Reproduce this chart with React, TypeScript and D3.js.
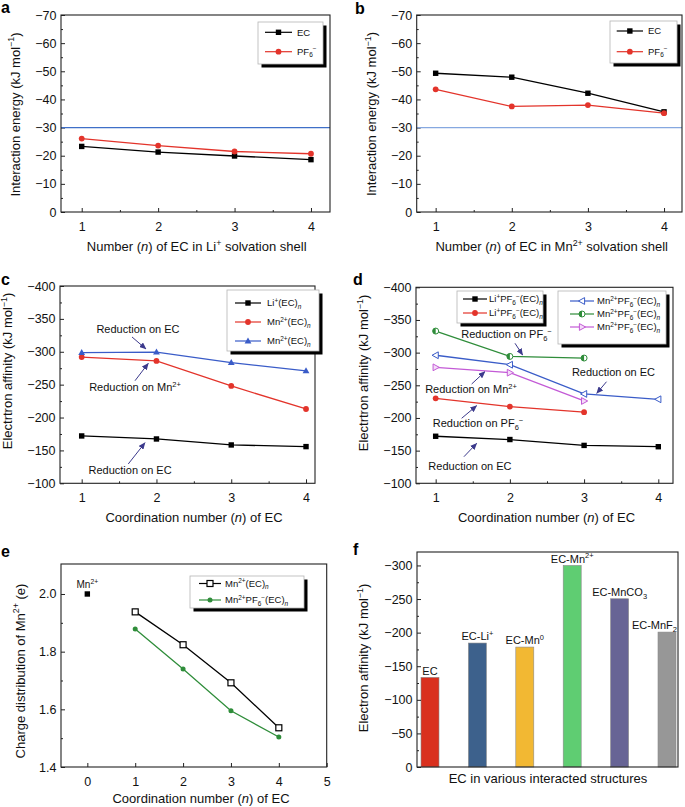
import React, { useEffect, useRef } from 'react';
import * as d3 from 'd3';

const FONT = '"Liberation Sans", Arial, Helvetica, sans-serif';
const RED = '#e3342b';
const BLUE = '#3a5cc8';
const GREEN = '#2f8d3a';
const MAGENTA = '#c35ad6';
const ARROW = '#3c3a8c';

// ---- panel a / b : interaction energy ----
const ecCount = [1, 2, 3, 4];
const liEC = [-23.3, -21.3, -19.9, -18.6];
const liPF6 = [-26.1, -23.6, -21.5, -20.7];
const mnEC = [-49.3, -47.9, -42.2, -35.6];
const mnPF6 = [-43.6, -37.5, -38.0, -35.1];
const energyThreshold = -30;
const energyTicks = [0, -10, -20, -30, -40, -50, -60, -70];
const energyMinor = [-5, -15, -25, -35, -45, -55, -65];

// ---- panel c / d : electron affinity ----
const ecCount3 = [1, 2, 3];
const cLiEC = [-172, -167.4, -158.3, -155.8];
const cMnEC_mn = [-292, -286, -248, -213];
const cMnEC_ec = [-298.6, -299.6, -283.4, -271];
const dLiPF6_ec = [-172, -167, -158, -156];
const dLiPF6_pf6 = [-230, -217.5, -208.8];
const dMnPF6_ec = [-296, -281.5, -236.8, -228.6];
const dMnPF6_pf6 = [-333, -294.2, -291.7];
const dMnPF6_mn = [-277.5, -269.3, -226];
const affinityTicks = [-100, -150, -200, -250, -300, -350, -400];
const affinityMinor = [-125, -175, -225, -275, -325, -375];
const halfTicks = [1.5, 2.5, 3.5];

const annotationsC = [
  { label: 'Reduction on EC', at: [1.753, -328.5], from: [1.673, -322.5], to: [1.86, -304.2] },
  { label: 'Reduction on Mn<sup>2+</sup>', at: [1.713, -240.4], from: [1.713, -256], to: [1.891, -282.5] },
  { label: 'Reduction on EC', at: [1.647, -113.4], from: [1.623, -129.4], to: [1.847, -161.7] },
];
const annotationsD = [
  { label: 'Reduction on PF<sub>6</sub><sup>−</sup>', at: [1.954, -322.4], from: [2.069, -314.3], to: [2.172, -296.4] },
  { label: 'Reduction on EC', at: [3.396, -264.2], from: [3.302, -255.5], to: [3.17, -237.7] },
  { label: 'Reduction on Mn<sup>2+</sup>', at: [1.476, -238.2], from: [1.485, -252], to: [1.664, -270.8] },
  { label: 'Reduction on PF<sub>6</sub><sup>−</sup>', at: [1.57, -186.2], from: [1.35, -199.5], to: [1.553, -218.8] },
  { label: 'Reduction on EC', at: [1.462, -120.3], from: [1.381, -140.7], to: [1.553, -161.2] },
];

// ---- panel e : charge on Mn ----
const eCount = [1, 2, 3, 4];
const chargeMnEC = [1.938, 1.824, 1.692, 1.536];
const chargeMnPF6EC = [1.879, 1.74, 1.595, 1.504];
const bareMnN = [0];
const bareMnCharge = [2.0];
const chargeTicks = [1.4, 1.6, 1.8, 2.0];
const chargeMinor = [1.5, 1.7, 1.9];
const eXTicks = [0, 1, 2, 3, 4, 5];

// ---- panel f : bars ----
const structures = ['EC', 'EC-Li+', 'EC-Mn0', 'EC-Mn2+', 'EC-MnCO3', 'EC-MnF2'];
const structureLabels = ['EC', 'EC-Li<sup>+</sup>', 'EC-Mn<sup>0</sup>', 'EC-Mn<sup>2+</sup>', 'EC-MnCO<sub>3</sub>', 'EC-MnF<sub>2</sub>'];
const structureAffinity = [-133.4, -184.5, -178.5, -300, -250.4, -200.8];
const structureColors = ['#d9301e', '#3d618c', '#f2b833', '#5fcd72', '#676495', '#979797'];
const barTicks = [0, -50, -100, -150, -200, -250, -300];
const barMinor = [-25, -75, -125, -175, -225, -275];

// small markup: <sup>, <sub>, <i>
function rich(text: any, markup: string, size: number) {
  const parts = markup.split(/(<\/?(?:sup|sub|i)>)/).filter(s => s !== '');
  let sup = 0, sub = 0, ital = 0, shift = 0;
  for (const p of parts) {
    if (p === '<sup>') sup++;
    else if (p === '</sup>') sup--;
    else if (p === '<sub>') sub++;
    else if (p === '</sub>') sub--;
    else if (p === '<i>') ital++;
    else if (p === '</i>') ital--;
    else {
      const target = sup ? -0.4 * size : sub ? 0.25 * size : 0;
      text.append('tspan')
        .attr('dy', target - shift)
        .attr('font-size', sup || sub ? size * 0.68 : size)
        .attr('font-style', ital ? 'italic' : null)
        .text(p);
      shift = target;
    }
  }
  return text;
}

function marker(g: any, shape: string, cx: number, cy: number, color: string) {
  if (shape === 'square') {
    g.append('rect').attr('x', cx - 2.7).attr('y', cy - 2.7).attr('width', 5.4).attr('height', 5.4).attr('fill', color);
  } else if (shape === 'openSquare') {
    g.append('rect').attr('x', cx - 3).attr('y', cy - 3).attr('width', 6).attr('height', 6)
      .attr('fill', '#fff').attr('stroke', color).attr('stroke-width', 1.2);
  } else if (shape === 'circle') {
    g.append('circle').attr('cx', cx).attr('cy', cy).attr('r', 2.9).attr('fill', color);
  } else if (shape === 'smallCircle') {
    g.append('circle').attr('cx', cx).attr('cy', cy).attr('r', 2.5).attr('fill', color);
  } else if (shape === 'triUp') {
    g.append('path').attr('d', `M${cx},${cy - 3.6}L${cx + 3.4},${cy + 2.4}L${cx - 3.4},${cy + 2.4}Z`).attr('fill', color);
  } else if (shape === 'triLeft') {
    g.append('path').attr('d', `M${cx - 3.6},${cy}L${cx + 2.6},${cy - 3.4}L${cx + 2.6},${cy + 3.4}Z`)
      .attr('fill', '#fff').attr('stroke', color).attr('stroke-width', 1);
  } else if (shape === 'triRight') {
    g.append('path').attr('d', `M${cx + 3.6},${cy}L${cx - 2.6},${cy - 3.4}L${cx - 2.6},${cy + 3.4}Z`)
      .attr('fill', '#f4dcf8').attr('stroke', color).attr('stroke-width', 1);
  } else if (shape === 'halfCircle') {
    g.append('circle').attr('cx', cx).attr('cy', cy).attr('r', 3).attr('fill', '#fff').attr('stroke', color).attr('stroke-width', 1);
    g.append('path').attr('d', `M${cx},${cy - 3}A3,3 0 0 0 ${cx},${cy + 3}Z`).attr('fill', color);
  }
}

function legend(svg: any, box: any, entries: any[]) {
  const g = svg.append('g');
  g.append('rect').attr('x', box.x + 3.5).attr('y', box.y + 3.5).attr('width', box.w).attr('height', box.h).attr('fill', '#000');
  g.append('rect').attr('x', box.x).attr('y', box.y).attr('width', box.w).attr('height', box.h)
    .attr('fill', '#fff').attr('stroke', '#b5b5b5').attr('stroke-width', 0.8);
  entries.forEach((e, i) => {
    const y = box.y + box.rows[i];
    g.append('line').attr('x1', box.x + box.line[0]).attr('x2', box.x + box.line[1]).attr('y1', y).attr('y2', y)
      .attr('stroke', e.color).attr('stroke-width', 1.2);
    marker(g, e.shape, box.x + (box.line[0] + box.line[1]) / 2, y, e.color);
    rich(g.append('text').attr('x', box.x + box.text).attr('y', y + 3.4).attr('fill', '#111'), e.label, 9.5);
  });
}

function xyPanel(svg: any, cfg: any) {
  const { frame } = cfg;
  const x = d3.scaleLinear().domain(cfg.xDomain).range([frame.left, frame.right]);
  const y = d3.scaleLinear().domain(cfg.yDomain).range([frame.bottom, frame.top]);
  const g = svg.append('g');

  // axes, ticks pointing inward
  const yAxis = g.append('g').attr('transform', `translate(${frame.left},0)`)
    .call(d3.axisLeft(y).tickValues(cfg.yTicks).tickSize(-4).tickPadding(4.5).tickFormat(d3.format(cfg.yFormat || 'd')));
  const yMin = g.append('g').attr('transform', `translate(${frame.left},0)`)
    .call(d3.axisLeft(y).tickValues(cfg.yMinor || []).tickSize(-2).tickFormat(() => ''));
  const xAxis = g.append('g').attr('transform', `translate(0,${frame.bottom})`)
    .call(d3.axisBottom(x).tickValues(cfg.xTicks).tickSize(-4).tickPadding(10).tickFormat(d3.format('d')));
  const xMin = g.append('g').attr('transform', `translate(0,${frame.bottom})`)
    .call(d3.axisBottom(x).tickValues(cfg.xMinor || []).tickSize(-2).tickFormat(() => ''));
  [yAxis, yMin, xAxis, xMin].forEach(a => {
    a.select('.domain').remove();
    a.selectAll('line').attr('stroke', '#222');
    a.selectAll('text').attr('font-size', 12.5).attr('font-family', FONT).attr('fill', '#111');
  });

  (cfg.hlines || []).forEach((h: any) => {
    g.append('line').attr('x1', frame.left).attr('x2', frame.right).attr('y1', y(h.value)).attr('y2', y(h.value))
      .attr('stroke', h.color).attr('stroke-width', 1.2);
  });

  g.append('rect').attr('x', frame.left).attr('y', frame.top)
    .attr('width', frame.right - frame.left).attr('height', frame.bottom - frame.top)
    .attr('fill', 'none').attr('stroke', '#222').attr('stroke-width', 1.1);

  const line = d3.line<[number, number]>().x(d => x(d[0])).y(d => y(d[1]));
  cfg.series.forEach((s: any) => {
    const pts: [number, number][] = s.xs.map((v: number, i: number) => [v, s.ys[i]]);
    if (pts.length > 1) {
      g.append('path').attr('d', line(pts)).attr('fill', 'none').attr('stroke', s.color).attr('stroke-width', 1.3);
    }
    pts.forEach(p => marker(g, s.shape, x(p[0]), y(p[1]), s.color));
  });

  (cfg.annotations || []).forEach((a: any) => {
    g.append('line').attr('x1', x(a.from[0])).attr('y1', y(a.from[1])).attr('x2', x(a.to[0])).attr('y2', y(a.to[1]))
      .attr('stroke', ARROW).attr('stroke-width', 1).attr('marker-end', 'url(#arrowhead)');
    rich(g.append('text').attr('x', x(a.at[0])).attr('y', y(a.at[1])).attr('text-anchor', 'middle').attr('fill', '#111'), a.label, 11);
  });

  (cfg.labels || []).forEach((l: any) => {
    rich(g.append('text').attr('x', x(l.at[0])).attr('y', y(l.at[1])).attr('text-anchor', 'middle').attr('fill', '#111'), l.label, 10);
  });

  (cfg.legends || []).forEach((l: any) => legend(svg, l.box, l.entries));

  titles(svg, cfg);
}

function titles(svg: any, cfg: any) {
  rich(svg.append('text').attr('x', cfg.xTitle.x).attr('y', cfg.xTitle.y).attr('text-anchor', 'middle').attr('fill', '#111'), cfg.xTitle.label, 13);
  rich(svg.append('text')
    .attr('transform', `translate(${cfg.yTitle.x + 4.5},${cfg.yTitle.y}) rotate(-90)`)
    .attr('text-anchor', 'middle').attr('fill', '#111'), cfg.yTitle.label, 13);
  svg.append('text').attr('x', cfg.letter.x).attr('y', cfg.letter.y)
    .attr('font-weight', 'bold').attr('font-size', 16).attr('fill', '#000').text(cfg.letter.text);
}

function barPanel(svg: any) {
  const frame = { left: 417, top: 552, right: 678, bottom: 767 };
  const x = d3.scalePoint<string>().domain(structures).range([430, 667]);
  const y = d3.scaleLinear().domain([0, -320]).range([frame.bottom, frame.top]);
  const g = svg.append('g');
  const barW = 18;

  g.selectAll('rect.bar').data(structures).join('rect')
    .attr('class', 'bar')
    .attr('x', (d: string) => (x(d) as number) - barW / 2)
    .attr('width', barW)
    .attr('y', (_: string, i: number) => y(structureAffinity[i]))
    .attr('height', (_: string, i: number) => y(0) - y(structureAffinity[i]))
    .attr('fill', (_: string, i: number) => structureColors[i])
    .attr('stroke', '#8a8a8a').attr('stroke-width', 0.6);

  structures.forEach((d, i) => {
    const t = rich(g.append('text').attr('x', x(d) as number).attr('y', y(structureAffinity[i]) - 2.8)
      .attr('text-anchor', 'middle').attr('fill', '#111'), structureLabels[i], 11);
    // keep a label inside the frame, as the original does for the last bar
    const w = (t.node() as SVGTextElement).getComputedTextLength();
    const cx = x(d) as number;
    if (cx + w / 2 > frame.right - 1) t.attr('x', frame.right - 1 - w / 2);
  });

  const yAxis = g.append('g').attr('transform', `translate(${frame.left},0)`)
    .call(d3.axisLeft(y).tickValues(barTicks).tickSize(-4).tickPadding(4.5).tickFormat(d3.format('d')));
  const yMin = g.append('g').attr('transform', `translate(${frame.left},0)`)
    .call(d3.axisLeft(y).tickValues(barMinor).tickSize(-2).tickFormat(() => ''));
  [yAxis, yMin].forEach(a => {
    a.select('.domain').remove();
    a.selectAll('line').attr('stroke', '#222');
    a.selectAll('text').attr('font-size', 12.5).attr('font-family', FONT).attr('fill', '#111');
  });

  g.append('rect').attr('x', frame.left).attr('y', frame.top)
    .attr('width', frame.right - frame.left).attr('height', frame.bottom - frame.top)
    .attr('fill', 'none').attr('stroke', '#222').attr('stroke-width', 1.1);

  titles(svg, {
    xTitle: { x: 548, y: 782.5, label: 'EC in various interacted structures' },
    yTitle: { x: 363.3, y: 658, label: 'Electron affinity (kJ mol<sup>−1</sup>)' },
    letter: { x: 353, y: 555, text: 'f' },
  });
}

export default function App() {
  const ref = useRef<SVGSVGElement | null>(null);

  useEffect(() => {
    if (!ref.current) return;
    const svg = d3.select(ref.current);
    svg.selectAll('*').remove();
    svg.attr('font-family', FONT);

    svg.append('defs').append('marker')
      .attr('id', 'arrowhead').attr('markerUnits', 'userSpaceOnUse')
      .attr('markerWidth', 7).attr('markerHeight', 6).attr('refX', 6.5).attr('refY', 3).attr('orient', 'auto')
      .append('path').attr('d', 'M0,0L7,3L0,6Z').attr('fill', ARROW);

    const ecLi = [
      { label: 'EC', color: '#000', shape: 'square' },
      { label: 'PF<sub>6</sub><sup>−</sup>', color: RED, shape: 'circle' },
    ];

    // a
    xyPanel(svg, {
      frame: { left: 61, top: 15, right: 330, bottom: 212 },
      xDomain: [0.729, 4.249], yDomain: [0, -70],
      xTicks: ecCount, xMinor: halfTicks, yTicks: energyTicks, yMinor: energyMinor,
      hlines: [{ value: energyThreshold, color: '#3f6fc8' }],
      series: [
        { xs: ecCount, ys: liEC, color: '#000', shape: 'square' },
        { xs: ecCount, ys: liPF6, color: RED, shape: 'circle' },
      ],
      legends: [{ box: { x: 258, y: 22, w: 65, h: 42, line: [7, 34], text: 39, rows: [10.3, 29.7] }, entries: ecLi }],
      xTitle: { x: 196.7, y: 251, label: 'Number (<i>n</i>) of EC in Li<sup>+</sup> solvation shell' },
      yTitle: { x: 15, y: 114.5, label: 'Interaction energy (kJ mol<sup>−1</sup>)' },
      letter: { x: 1, y: 13, text: 'a' },
    });

    // b
    xyPanel(svg, {
      frame: { left: 416.7, top: 15, right: 682, bottom: 212 },
      xDomain: [0.751, 4.236], yDomain: [0, -70],
      xTicks: ecCount, xMinor: halfTicks, yTicks: energyTicks, yMinor: energyMinor,
      hlines: [{ value: energyThreshold, color: '#86a8e0' }],
      series: [
        { xs: ecCount, ys: mnEC, color: '#000', shape: 'square' },
        { xs: ecCount, ys: mnPF6, color: RED, shape: 'circle' },
      ],
      legends: [{ box: { x: 610, y: 21, w: 67, h: 42, line: [6.7, 33], text: 38, rows: [10, 30.7] }, entries: ecLi }],
      xTitle: { x: 551.7, y: 251, label: 'Number (<i>n</i>) of EC in Mn<sup>2+</sup> solvation shell' },
      yTitle: { x: 371.7, y: 114, label: 'Interaction energy (kJ mol<sup>−1</sup>)' },
      letter: { x: 355, y: 14, text: 'b' },
    });

    // c
    xyPanel(svg, {
      frame: { left: 60, top: 286, right: 315, bottom: 483.3 },
      xDomain: [0.71, 4.12], yDomain: [-100, -400],
      xTicks: ecCount, xMinor: halfTicks, yTicks: affinityTicks, yMinor: affinityMinor,
      series: [
        { xs: ecCount, ys: cLiEC, color: '#000', shape: 'square' },
        { xs: ecCount, ys: cMnEC_mn, color: RED, shape: 'circle' },
        { xs: ecCount, ys: cMnEC_ec, color: BLUE, shape: 'triUp' },
      ],
      annotations: annotationsC,
      legends: [{
        box: { x: 227, y: 290, w: 92, h: 61, line: [8, 34], text: 40, rows: [13, 32, 51] },
        entries: [
          { label: 'Li<sup>+</sup>(EC)<sub><i>n</i></sub>', color: '#000', shape: 'square' },
          { label: 'Mn<sup>2+</sup>(EC)<sub><i>n</i></sub>', color: RED, shape: 'circle' },
          { label: 'Mn<sup>2+</sup>(EC)<sub><i>n</i></sub>', color: BLUE, shape: 'triUp' },
        ],
      }],
      xTitle: { x: 194, y: 521.5, label: 'Coordination number (<i>n</i>) of EC' },
      yTitle: { x: 7.5, y: 371, label: 'Electrtron affinity (kJ mol<sup>−1</sup>)' },
      letter: { x: 1, y: 285, text: 'c' },
    });

    // d
    xyPanel(svg, {
      frame: { left: 416, top: 287.3, right: 673, bottom: 483.3 },
      xDomain: [0.735, 4.198], yDomain: [-100, -400],
      xTicks: ecCount, xMinor: halfTicks, yTicks: affinityTicks, yMinor: affinityMinor,
      series: [
        { xs: ecCount, ys: dLiPF6_ec, color: '#000', shape: 'square' },
        { xs: ecCount3, ys: dLiPF6_pf6, color: RED, shape: 'circle' },
        { xs: ecCount, ys: dMnPF6_ec, color: BLUE, shape: 'triLeft' },
        { xs: ecCount3, ys: dMnPF6_pf6, color: GREEN, shape: 'halfCircle' },
        { xs: ecCount3, ys: dMnPF6_mn, color: MAGENTA, shape: 'triRight' },
      ],
      annotations: annotationsD,
      legends: [
        {
          box: { x: 457, y: 291, w: 86, h: 32, line: [6, 30], text: 32, rows: [8, 22] },
          entries: [
            { label: 'Li<sup>+</sup>PF<sub>6</sub><sup>−</sup>(EC)<sub><i>n</i></sub>', color: '#000', shape: 'square' },
            { label: 'Li<sup>+</sup>PF<sub>6</sub><sup>−</sup>(EC)<sub><i>n</i></sub>', color: RED, shape: 'circle' },
          ],
        },
        {
          box: { x: 558, y: 291, w: 108, h: 53, line: [12, 36], text: 39, rows: [10, 23, 36] },
          entries: [
            { label: 'Mn<sup>2+</sup>PF<sub>6</sub><sup>−</sup>(EC)<sub><i>n</i></sub>', color: BLUE, shape: 'triLeft' },
            { label: 'Mn<sup>2+</sup>PF<sub>6</sub><sup>−</sup>(EC)<sub><i>n</i></sub>', color: GREEN, shape: 'halfCircle' },
            { label: 'Mn<sup>2+</sup>PF<sub>6</sub><sup>−</sup>(EC)<sub><i>n</i></sub>', color: MAGENTA, shape: 'triRight' },
          ],
        },
      ],
      xTitle: { x: 546.5, y: 521.5, label: 'Coordination number (<i>n</i>) of EC' },
      yTitle: { x: 363.3, y: 373, label: 'Electrtron affinity (kJ mol<sup>−1</sup>)' },
      letter: { x: 353, y: 285, text: 'd' },
    });

    // e
    xyPanel(svg, {
      frame: { left: 61, top: 564, right: 326.7, bottom: 767 },
      xDomain: [-0.55, 5], yDomain: [1.4, 2.104],
      xTicks: eXTicks, yTicks: chargeTicks, yMinor: chargeMinor, yFormat: '.1f',
      series: [
        { xs: bareMnN, ys: bareMnCharge, color: '#000', shape: 'square' },
        { xs: eCount, ys: chargeMnEC, color: '#000', shape: 'openSquare' },
        { xs: eCount, ys: chargeMnPF6EC, color: GREEN, shape: 'smallCircle' },
      ],
      labels: [{ label: 'Mn<sup>2+</sup>', at: [0, 2.022] }],
      legends: [{
        box: { x: 190, y: 576, w: 114, h: 32, line: [9, 31], text: 35, rows: [7.5, 24] },
        entries: [
          { label: 'Mn<sup>2+</sup>(EC)<sub><i>n</i></sub>', color: '#000', shape: 'openSquare' },
          { label: 'Mn<sup>2+</sup>PF<sub>6</sub><sup>−</sup>(EC)<sub><i>n</i></sub>', color: GREEN, shape: 'smallCircle' },
        ],
      }],
      xTitle: { x: 201, y: 802.5, label: 'Coordination number (<i>n</i>) of EC' },
      yTitle: { x: 20, y: 671, label: 'Charge distribution of Mn<sup>2+</sup> (e)' },
      letter: { x: 1, y: 557, text: 'e' },
    });

    // f
    barPanel(svg);
  }, []);

  return (
    <svg ref={ref} width={685} height={807}
      style={{ position: 'absolute', left: 0, top: 0, background: '#fff' }} />
  );
}
